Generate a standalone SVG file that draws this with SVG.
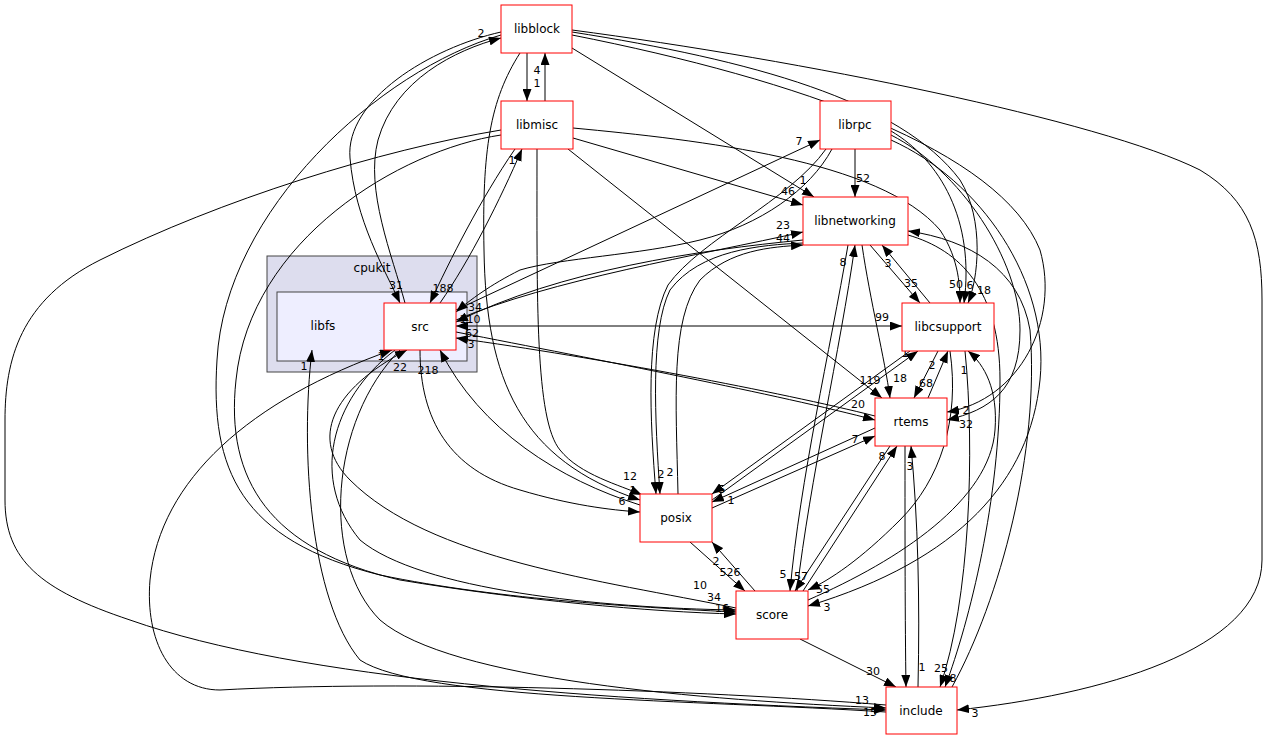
<svg xmlns="http://www.w3.org/2000/svg" width="1264" height="740" viewBox="0 0 1264 740">
<style>
.n{fill:#fff;stroke:#ff0000;stroke-width:1}
.nt{font-family:"DejaVu Sans",sans-serif;font-size:12px;text-anchor:middle;fill:#000}
.e{fill:none;stroke:#000;stroke-width:1;marker-end:url(#a)}
.l{font-family:"DejaVu Sans",sans-serif;font-size:11px;fill:#000;text-anchor:middle}
</style>
<defs>
<marker id="a" markerWidth="12" markerHeight="9" refX="12" refY="4.5" orient="auto" markerUnits="userSpaceOnUse"><path d="M0,0 L12,4.5 L0,9 z" fill="#000"/></marker>
<marker id="b" markerWidth="12" markerHeight="9" refX="0" refY="4.5" orient="auto" markerUnits="userSpaceOnUse"><path d="M12,0 L0,4.5 L12,9 z" fill="#000"/></marker>
</defs>
<rect width="1264" height="740" fill="#fff"/>
<g id="cluster_cpukit">
<rect x="267" y="256" width="210" height="116" fill="#ddddee" stroke="#444" stroke-width="1"/>
<text x="372" y="272" class="nt">cpukit</text>
</g>
<g id="cluster_libfs">
<rect x="277" y="292" width="190" height="69" fill="#eeeeff" stroke="#444" stroke-width="1"/>
<text x="323" y="330" class="nt">libfs</text>
</g>
<g id="edges">
<path class="e" d="M527,53 V101"/><text class="l" x="537" y="74">4</text>
<path class="e" d="M545,101 V53"/><text class="l" x="537" y="87">1</text>
<path class="e" d="M405,303 C392,255 365,190 378,140 C395,80 455,50 501,38"/><text class="l" x="481" y="37">2</text>
<path class="e" d="M501,32 C430,48 345,100 350,158 C355,220 385,270 400,303"/><text class="l" x="396" y="289">31</text>
<path class="e" d="M501,35 C380,70 225,210 217,360 C210,470 240,540 380,575 C500,600 650,608 736,612"/><text class="l" x="714" y="601">34</text>
<path class="e" d="M501,135 C400,150 250,240 236,380 C225,480 270,550 400,580 C520,600 650,612 736,614"/><text class="l" x="722" y="612">16</text>
<path class="e" d="M501,130 C380,150 220,200 100,260 C20,300 5,360 5,420 V500 C5,560 40,590 130,620 C300,680 600,700 886,710"/><text class="l" x="862" y="704">13</text>
<path class="e" d="M515,149 C480,200 450,260 430,303"/><text class="l" x="443" y="292">188</text>
<path class="e" d="M440,303 C470,260 500,200 522,149"/><text class="l" x="512" y="164">1</text>
<path class="e" d="M520,53 C490,100 482,150 484,250 C486,380 520,460 640,500"/><text class="l" x="633" y="494">1</text>
<path class="e" d="M537,149 C537,300 535,420 560,450 C580,475 620,485 642,495"/><text class="l" x="630" y="480">12</text>
<path class="e" d="M573,138 L803,205"/><text class="l" x="788" y="195">46</text>
<path class="e" d="M572,48 L814,197"/><text class="l" x="803" y="184">1</text>
<path class="e" d="M568,149 L882,398"/><text class="l" x="870" y="384">119</text>
<path class="e" d="M573,128 C700,140 880,160 940,230 C960,260 960,290 960,303"/><text class="l" x="956" y="288">50</text>
<path class="e" d="M572,32 C750,60 900,100 960,180 C985,220 978,280 968,303"/><text class="l" x="984" y="294">18</text>
<path class="e" d="M891,131 C940,160 975,220 964,303"/><text class="l" x="970" y="289">6</text>
<path class="e" d="M891,135 C960,170 1020,260 1020,330 C1020,390 990,410 947,420"/><text class="l" x="966" y="428">32</text>
<path class="e" d="M572,35 C800,80 1000,150 1040,250 C1060,320 1020,400 947,412"/><text class="l" x="966" y="414">2</text>
<path class="e" d="M572,30 C800,60 1100,120 1200,170 C1250,200 1262,240 1262,300 V560 C1262,650 1100,695 957,710"/><text class="l" x="975" y="717">3</text>
<path class="e" d="M855,149 V197"/><text class="l" x="863" y="182">52</text>
<path class="e" d="M456,310 L820,140"/><text class="l" x="799" y="145">7</text>
<path class="e" d="M832,149 C810,190 760,225 700,240 C640,255 560,258 520,270 C490,285 470,300 456,312"/><text class="l" x="475" y="311">34</text>
<path class="e" d="M456,320 C550,280 700,255 803,232"/><text class="l" x="783" y="229">23</text>
<path class="e" d="M803,240 C700,250 560,270 456,322"/><text class="l" x="470" y="323">110</text>
<path class="e" d="M678,494 C676,400 670,320 700,280 C730,250 770,247 803,245"/><text class="l" x="783" y="242">44</text>
<path class="e" d="M803,243 C760,245 700,250 670,290 C650,330 655,420 660,494"/><text class="l" x="661" y="478">2</text>
<path class="e" d="M826,149 C790,200 700,240 668,285 C645,330 650,420 656,494"/><text class="l" x="670" y="476">2</text>
<path class="e" d="M456,326 H902" marker-start="url(#b)"/><text class="l" x="882" y="321">99</text><text class="l" x="472" y="337">62</text>
<path class="e" d="M456,332 C600,360 780,395 875,420"/><text class="l" x="858" y="408">20</text>
<path class="e" d="M875,416 C780,392 600,358 456,338"/><text class="l" x="471" y="348">3</text>
<path class="e" d="M870,245 L920,303"/><text class="l" x="911" y="287">35</text>
<path class="e" d="M930,303 L882,245"/><text class="l" x="888" y="267">3</text>
<path class="e" d="M862,245 C870,300 885,360 890,398"/><text class="l" x="900" y="382">18</text>
<path class="e" d="M938,351 L914,398"/><text class="l" x="926" y="387">68</text>
<path class="e" d="M928,398 L948,351"/><text class="l" x="932" y="369">2</text>
<path class="e" d="M712,500 L918,351"/><text class="l" x="905" y="357">1</text>
<path class="e" d="M910,351 L712,494"/><text class="l" x="722" y="493">5</text>
<path class="e" d="M875,428 L712,502"/><text class="l" x="731" y="504">1</text>
<path class="e" d="M712,508 L875,436"/><text class="l" x="855" y="443">7</text>
<path class="e" d="M950,351 C960,420 940,480 900,520 C860,560 830,580 808,590"/><text class="l" x="823" y="593">55</text>
<path class="e" d="M848,245 C830,350 800,480 790,591"/><text class="l" x="783" y="578">5</text>
<path class="e" d="M797,591 C810,480 840,350 855,245"/><text class="l" x="843" y="266">8</text>
<path class="e" d="M890,446 L795,591"/><text class="l" x="801" y="580">57</text>
<path class="e" d="M803,591 L897,446"/><text class="l" x="882" y="460">8</text>
<path class="e" d="M891,140 C980,180 1050,280 1040,380 C1030,480 960,560 808,606"/><text class="l" x="827" y="611">3</text>
<path class="e" d="M690,542 L745,591"/><text class="l" x="730" y="576">526</text>
<path class="e" d="M755,591 L712,542"/><text class="l" x="716" y="565">2</text>
<path class="e" d="M800,639 L896,687"/><text class="l" x="873" y="675">30</text>
<path class="e" d="M905,446 C905,540 905,620 906,687"/><text class="l" x="922" y="671">1</text>
<path class="e" d="M918,687 C920,600 918,520 911,446"/><text class="l" x="910" y="470">3</text>
<path class="e" d="M965,351 C975,450 970,600 940,687"/><text class="l" x="941" y="672">25</text>
<path class="e" d="M808,600 C900,560 990,500 995,430 C998,390 985,365 968,351"/><text class="l" x="964" y="374">1</text>
<path class="e" d="M908,235 C960,250 1000,290 1000,380 C1000,500 970,620 945,687"/><text class="l" x="953" y="682">8</text>
<path class="e" d="M952,687 C1000,600 1040,450 1030,330 C1020,270 970,240 908,231"/><text class="l" x="897" y="240">1</text>
<path class="e" d="M420,350 C420,420 450,470 520,490 C570,505 610,510 640,512"/><text class="l" x="622" y="505">6</text>
<path class="e" d="M640,505 C560,480 480,430 440,350"/><text class="l" x="428" y="374">218</text>
<path class="e" d="M736,608 C600,580 430,560 350,480 C310,440 330,390 407,350"/><text class="l" x="400" y="371">22</text>
<path class="e" d="M886,705 C700,690 400,680 220,690 C170,690 145,640 150,580 C160,480 250,400 392,350"/><text class="l" x="381" y="360">1</text>
<path class="e" d="M886,712 C700,700 420,700 360,660 C310,600 300,450 312,350"/><text class="l" x="304" y="370">1</text>
<path class="e" d="M395,350 C330,400 310,480 360,540 C420,590 600,608 736,610"/><text class="l" x="700" y="589">10</text>
<path class="e" d="M400,350 C330,420 320,560 380,620 C450,680 700,700 886,708"/><text class="l" x="870" y="716">15</text>
</g>
<g id="node_src"><rect class="n" x="384" y="303" width="72" height="47"/><text class="nt" x="420" y="331">src</text></g>
<g id="node_libblock"><rect class="n" x="501" y="5" width="71" height="48"/><text class="nt" x="537" y="33">libblock</text></g>
<g id="node_libmisc"><rect class="n" x="501" y="101" width="72" height="48"/><text class="nt" x="537" y="129">libmisc</text></g>
<g id="node_librpc"><rect class="n" x="820" y="101" width="71" height="48"/><text class="nt" x="855" y="129">librpc</text></g>
<g id="node_libnetworking"><rect class="n" x="803" y="197" width="105" height="48"/><text class="nt" x="855" y="225">libnetworking</text></g>
<g id="node_libcsupport"><rect class="n" x="902" y="303" width="92" height="48"/><text class="nt" x="948" y="331">libcsupport</text></g>
<g id="node_rtems"><rect class="n" x="875" y="398" width="72" height="48"/><text class="nt" x="911" y="426">rtems</text></g>
<g id="node_posix"><rect class="n" x="640" y="494" width="72" height="48"/><text class="nt" x="676" y="522">posix</text></g>
<g id="node_score"><rect class="n" x="736" y="591" width="72" height="48"/><text class="nt" x="772" y="619">score</text></g>
<g id="node_include"><rect class="n" x="886" y="687" width="71" height="47"/><text class="nt" x="921" y="715">include</text></g>
</svg>
